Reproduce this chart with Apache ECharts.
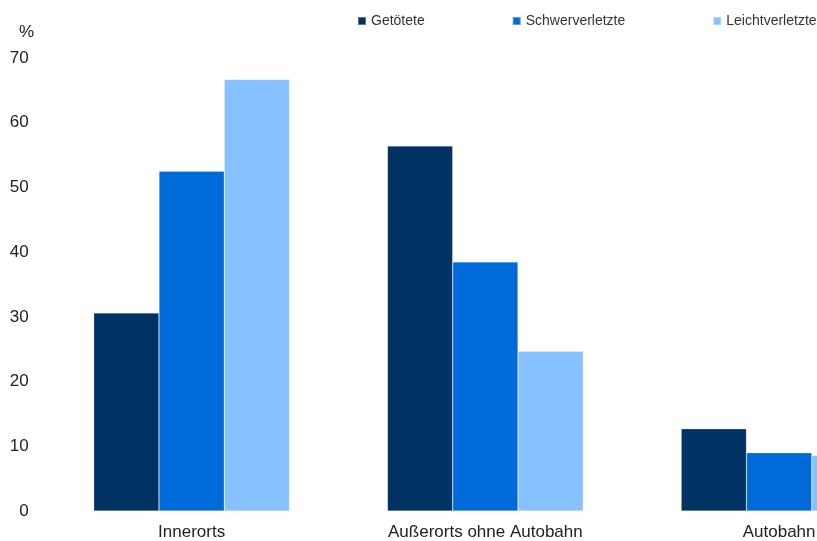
<!DOCTYPE html>
<html>
<head>
<meta charset="utf-8">
<script src="https://cdn.jsdelivr.net/npm/echarts@6/dist/echarts.min.js"></script>
<style>
html,body{margin:0;padding:0;background:#fff;overflow:hidden;width:817px;height:541px;}
#c{width:926px;height:541px;}
</style>
</head>
<body>
<div id="c"></div>
<script>
var categories = ['Innerorts', 'Außerorts ohne Autobahn', 'Autobahn'];
var getoetete = [30.6, 56.4, 12.7];
var schwerverletzte = [52.5, 38.5, 9.0];
var leichtverletzte = [66.7, 24.7, 8.6];
var seriesNames = ['Getötete', 'Schwerverletzte', 'Leichtverletzte'];
var colors = ['#003263', '#006AD9', '#88C1FF'];

var chart = echarts.init(document.getElementById('c'), null, {renderer: 'canvas'});
var font = 'Liberation Sans, Arial, sans-serif';
function mk(name, data, color) {
  return {
    name: name, type: 'bar', data: data,
    barGap: '0%', barCategoryGap: '33.3%',
    itemStyle: {color: color, borderColor: 'rgba(255,255,255,0.35)', borderWidth: 0.6},
    silent: true
  };
}
chart.setOption({
  animation: false,
  color: colors,
  title: {
    text: '%', left: 14, top: 19,
    textStyle: {fontFamily: font, fontSize: 17, fontWeight: 'normal', color: '#222'}
  },
  legend: {
    left: 357, top: 14, padding: 0,
    itemWidth: 8, itemHeight: 8, itemGap: 87,
    icon: 'rect',
    textStyle: {fontFamily: font, fontSize: 14, color: '#333', padding: [0,0,0,0]},
    data: seriesNames
  },
  grid: {left: 44.75, width: 881.4, top: 58, bottom: 29, containLabel: false},
  xAxis: {
    type: 'category', data: categories,
    axisLine: {show: false}, axisTick: {show: false},
    axisLabel: {fontFamily: font, fontSize: 17, color: '#222', margin: 13, interval: 0}
  },
  yAxis: {
    type: 'value', min: 0, max: 70, interval: 10,
    axisLine: {show: false}, axisTick: {show: false}, splitLine: {show: false},
    axisLabel: {fontFamily: font, fontSize: 17, color: '#222', margin: 16}
  },
  series: [
    mk(seriesNames[0], getoetete, colors[0]),
    mk(seriesNames[1], schwerverletzte, colors[1]),
    mk(seriesNames[2], leichtverletzte, colors[2])
  ]
});
</script>
</body>
</html>
